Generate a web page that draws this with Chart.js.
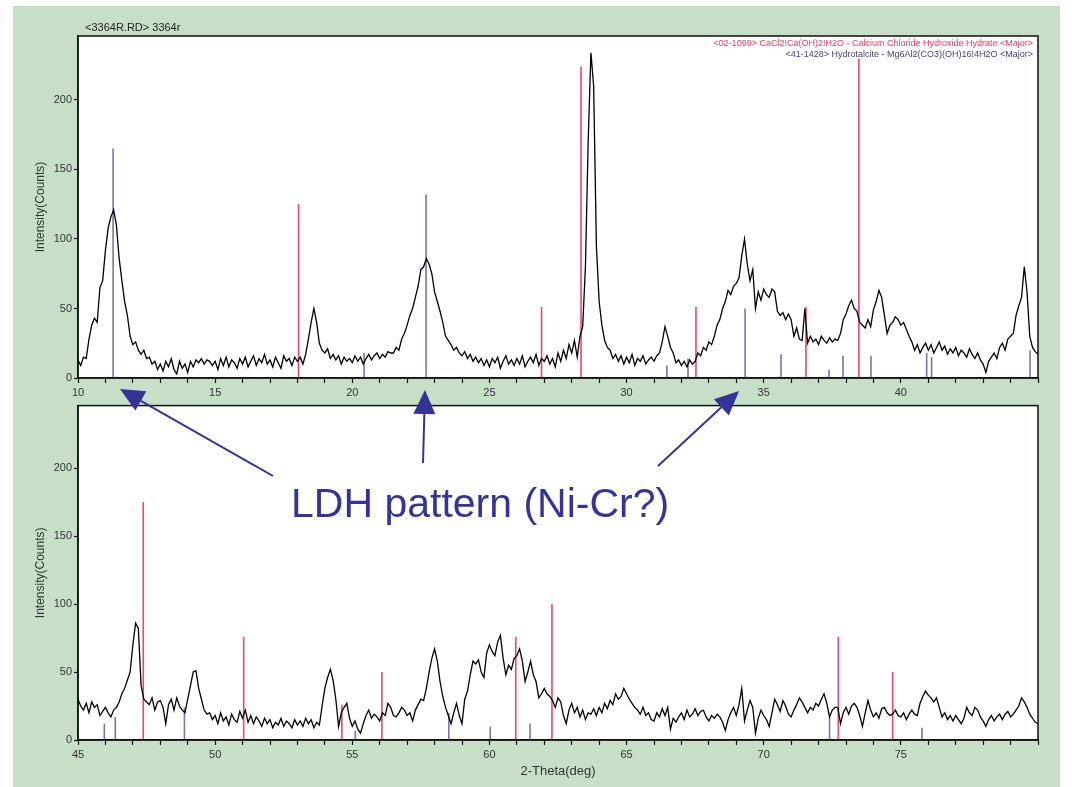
<!DOCTYPE html>
<html>
<head>
<meta charset="utf-8">
<title>3364r XRD</title>
<script src="https://cdn.jsdelivr.net/npm/chart.js@4.4.1/dist/chart.umd.min.js"></script>
<style>
  html, body { margin: 0; padding: 0; background: #fff; }
  #page { position: relative; width: 1072px; height: 787px; overflow: hidden; }
  #bg { position: absolute; left: 13px; top: 6px; width: 1047px; height: 781px; background: #c7dfc7; }
  #topChart { position: absolute; left: 0; top: 0; }
  #botChart { position: absolute; left: 0; top: 397px; }
  #overlay { position: absolute; left: 0; top: 0; pointer-events: none; font-family: "Liberation Sans", Arial, sans-serif; }
</style>
</head>
<body>
<div id="page">
  <div id="bg"></div>
  <canvas id="topChart" width="1072" height="397"></canvas>
  <canvas id="botChart" width="1072" height="390"></canvas>
  <svg id="overlay" width="1072" height="787">
    <text x="85" y="31" font-size="11" fill="#222">&lt;3364R.RD&gt; 3364r</text>
    <rect x="712" y="37" width="323" height="22" fill="#fff"></rect>
    <text x="1033" y="46" text-anchor="end" font-size="9" fill="#ff3366">&lt;02-1099&gt; CaCl2!Ca(OH)2!H2O - Calcium Chloride Hydroxide Hydrate &lt;Major&gt;</text>
    <text x="1033" y="57" text-anchor="end" font-size="9" fill="#4b3b8f">&lt;41-1428&gt; Hydrotalcite - Mg6Al2(CO3)(OH)16!4H2O &lt;Major&gt;</text>
    <g id="arrows"></g>
    <text x="291" y="517" font-size="41" fill="#333399">LDH pattern (Ni-Cr?)</text>
  </svg>
</div>
<script>
// scan step (deg 2-theta)
const STEP = 0.1;

// 10-45 deg scan
const TOP_START = 10;
const TOP_COUNTS = [
  13, 9, 15, 14, 28, 38, 43, 40, 65, 70,
  92, 108, 116, 121, 110, 86, 70, 55, 45, 30,
  24, 26, 20, 17, 20, 14, 15, 10, 12, 6,
  10, 5, 12, 8, 14, 6, 3, 12, 7, 10,
  4, 12, 8, 13, 11, 14, 10, 13, 12, 9,
  12, 6, 14, 9, 15, 8, 13, 11, 7, 14,
  10, 15, 8, 12, 16, 9, 14, 11, 17, 10,
  13, 8, 15, 11, 7, 16, 12, 14, 9, 15,
  12, 15, 10, 17, 28, 40, 50, 40, 25, 20,
  18, 21, 14, 17, 13, 16, 10, 15, 12, 14,
  11, 16, 12, 15, 10, 14, 17, 13, 16, 18,
  14, 17, 15, 19, 18, 18, 22, 20, 28, 32,
  38, 45, 50, 58, 66, 78, 80, 86, 82, 75,
  62, 55, 48, 40, 30, 27, 24, 20, 22, 18,
  16, 19, 14, 17, 12, 15, 11, 14, 9, 13,
  8, 14, 11, 15, 7, 12, 16, 10, 13, 9,
  14, 10, 16, 8, 12, 15, 11, 17, 9, 14,
  12, 16, 10, 14, 8, 18, 12, 20, 14, 24,
  18, 27, 15, 30, 37, 80, 170, 234, 210, 95,
  55, 38, 27, 22, 20, 14, 17, 12, 16, 10,
  15, 11, 17, 9, 14, 12, 16, 10, 13, 15,
  12, 16, 18, 26, 37, 30, 22, 18, 11, 13,
  9, 12, 8, 13, 10, 12, 18, 16, 22, 20,
  26, 24, 30, 38, 42, 50, 55, 63, 60, 66,
  68, 72, 88, 100, 82, 70, 78, 50, 62, 56,
  64, 60, 58, 64, 62, 48, 45, 47, 42, 46,
  42, 30, 36, 28, 27, 50, 25, 30, 26, 28,
  24, 30, 27, 25, 29, 26, 28, 27, 32, 42,
  46, 52, 56, 50, 48, 40, 38, 36, 42, 37,
  49, 55, 63, 58, 45, 32, 38, 40, 44, 42,
  38, 40, 35, 30, 26, 20, 24, 18, 22, 25,
  20, 24, 18, 22, 26, 20, 23, 17, 21, 18,
  22, 16, 20, 18, 15, 21, 17, 14, 18, 13,
  10, 4, 12, 15, 18, 14, 22, 25, 20, 28,
  30, 32, 45, 52, 58, 80, 62, 30, 22, 19,
  17
];

// 45-80 deg scan
const BOT_START = 45;
const BOT_COUNTS = [
  30, 25, 22, 27, 20, 28, 24, 26, 18, 21,
  24, 20, 17, 22, 24, 28, 34, 38, 44, 50,
  70, 86, 82, 40, 30, 28, 26, 31, 22, 28,
  29, 24, 12, 26, 30, 22, 31, 25, 22, 20,
  30, 40, 50, 51, 38, 30, 22, 19, 20, 15,
  18, 12, 20, 14, 17, 11, 19, 15, 13, 21,
  16, 22, 13, 18, 12, 17, 14, 10, 16, 12,
  15, 9, 13, 11, 16, 10, 14, 12, 9, 15,
  11, 14, 10, 16, 12, 15, 9, 13, 11, 25,
  38, 46, 52, 44, 30, 10, 20, 24, 27, 16,
  10, 14, 8, 5, 12, 18, 22, 16, 19, 17,
  14, 20, 18, 27, 24, 18, 17, 20, 24, 22,
  18, 20, 14, 22, 26, 30, 29, 38, 50, 60,
  67, 58, 43, 32, 24, 18, 12, 20, 27, 18,
  12, 30, 36, 48, 58, 56, 59, 50, 46, 64,
  70, 65, 62, 72, 77, 60, 48, 55, 52, 60,
  62, 67, 58, 43, 50, 58, 48, 43, 31, 34,
  38, 34, 32, 29, 24, 31, 28, 18, 12, 22,
  27, 20, 24, 17, 22, 15, 20, 19, 23, 18,
  24, 20, 27, 23, 29, 26, 34, 30, 32, 38,
  34, 30, 27, 24, 22, 19, 24, 18, 20, 15,
  14, 20, 17, 23, 18, 24, 8, 16, 13, 17,
  20, 15, 22, 17, 19, 23, 18, 21, 22, 17,
  14, 18, 16, 19, 17, 13, 7, 15, 20, 24,
  18, 26, 38, 14, 22, 29, 24, 5, 16, 22,
  18, 15, 10, 20, 30, 26, 21, 29, 25, 19,
  17, 22, 26, 31, 28, 24, 20, 24, 22, 27,
  25, 30, 34, 27, 17, 22, 24, 24, 12, 20,
  24, 19, 25, 27, 24, 18, 10, 20, 29, 22,
  17, 20, 16, 23, 24, 20, 18, 19, 22, 18,
  17, 20, 15, 19, 22, 19, 18, 27, 32, 36,
  33, 31, 28, 31, 24, 17, 20, 15, 18, 14,
  18, 15, 12, 16, 24, 20, 18, 24, 22, 17,
  14, 10, 15, 18, 14, 17, 19, 15, 19, 21,
  17, 19, 22, 25, 31, 28, 24, 19, 16, 13,
  12
];

// PDF 02-1099 CaCl2.Ca(OH)2.H2O stick lines
const CA_POS_TOP = [18.04, 26.90, 28.34, 32.53, 36.54, 38.47];
const CA_INT_TOP = [125, 51, 224, 51, 51, 260];
const CA_POS_BOT = [47.38, 51.04, 54.62, 56.08, 60.96, 62.28, 72.72, 74.70];
const CA_INT_BOT = [175, 76, 26, 50, 76, 100, 76, 50];

// PDF 41-1428 hydrotalcite stick lines
const HT_POS_TOP = [11.28, 20.43, 22.69, 31.47, 32.24, 34.32, 35.63, 37.38, 37.89, 38.91, 40.94, 41.12, 44.71];
const HT_INT_TOP = [165, 18, 132, 9, 14, 50, 17, 6, 16, 16, 18, 15, 20];
const HT_POS_BOT = [45.96, 46.36, 48.88, 55.11, 58.52, 60.03, 61.48, 72.40, 75.77];
const HT_INT_BOT = [12, 17, 24, 7, 20, 10, 12, 17, 9];

const Y_TICKS = [0, 50, 100, 150, 200];
const Y_MAX = 246;

const FONT = "'Liberation Sans', Arial, sans-serif";
const CA_COLOR = "#f6406e";
const HT_COLOR = "#8070ae";

function scanPoints(start, counts) {
  return counts.map((c, i) => ({ x: +(start + i * STEP).toFixed(2), y: c }));
}

// each stick = 0 -> intensity, broken by a null gap
function stickPoints(pos, inten) {
  const pts = [];
  pos.forEach((p, i) => {
    pts.push({ x: p, y: 0 }, { x: p, y: inten[i] }, { x: p, y: null });
  });
  return pts;
}

// white plot area + black frame
const plotFrame = {
  id: "plotFrame",
  beforeDraw(chart) {
    const { ctx, chartArea: a } = chart;
    ctx.save();
    ctx.fillStyle = "#fff";
    ctx.fillRect(a.left, a.top, a.right - a.left, a.bottom - a.top);
    ctx.restore();
  },
  afterDraw(chart) {
    const { ctx, chartArea: a } = chart;
    ctx.save();
    ctx.strokeStyle = "#111";
    ctx.lineWidth = 1.5;
    ctx.strokeRect(a.left, a.top, a.right - a.left, a.bottom - a.top);
    ctx.restore();
  }
};

function makeChart(id, opts) {
  const xMin = opts.start;
  const xMax = opts.start + 35;
  return new Chart(document.getElementById(id), {
    type: "line",
    data: {
      datasets: [
        {
          data: scanPoints(opts.start, opts.counts),
          borderColor: "#000",
          borderWidth: 1.3,
          pointRadius: 0,
          tension: 0,
          order: 0
        },
        {
          data: stickPoints(opts.caPos, opts.caInt),
          borderColor: CA_COLOR,
          borderWidth: 1.6,
          pointRadius: 0,
          spanGaps: false,
          order: 1
        },
        {
          data: stickPoints(opts.htPos, opts.htInt),
          borderColor: HT_COLOR,
          borderWidth: 1.6,
          pointRadius: 0,
          spanGaps: false,
          order: 2
        }
      ]
    },
    options: {
      responsive: false,
      animation: false,
      layout: { padding: { left: 29, right: 34, top: opts.padTop, bottom: 0 } },
      plugins: { legend: { display: false }, tooltip: { enabled: false } },
      scales: {
        x: {
          type: "linear",
          min: xMin,
          max: xMax,
          offset: false,
          afterFit: (s) => { s.height = opts.xHeight; },
          grid: { drawOnChartArea: false, drawTicks: true, tickLength: 5, color: "#111", tickWidth: 1.2 },
          border: { display: true, color: "#111", width: 1.5 },
          ticks: {
            stepSize: 1,
            autoSkip: false,
            maxRotation: 0,
            includeBounds: false,
            padding: 3,
            color: "#333",
            font: { family: FONT, size: 11 },
            callback: (v) => (v % 5 === 0 && v < xMax ? String(v) : "")
          },
          title: {
            display: !!opts.xTitle,
            text: opts.xTitle || "",
            color: "#333",
            font: { family: FONT, size: 13 },
            padding: { top: 2, bottom: 8 }
          }
        },
        y: {
          min: 0,
          max: Y_MAX,
          afterFit: (s) => { s.width = 49; },
          afterBuildTicks: (s) => { s.ticks = Y_TICKS.map((v) => ({ value: v })); },
          grid: { drawOnChartArea: false, drawTicks: true, tickLength: 4, color: "#111", tickWidth: 1.2 },
          border: { display: true, color: "#111", width: 1.5 },
          ticks: { padding: 2, color: "#333", font: { family: FONT, size: 11 } },
          title: {
            display: true,
            text: "Intensity(Counts)",
            color: "#333",
            font: { family: FONT, size: 12 },
            padding: { top: 4, bottom: 0 }
          }
        }
      }
    },
    plugins: [plotFrame]
  });
}

makeChart("topChart", {
  start: TOP_START, counts: TOP_COUNTS,
  caPos: CA_POS_TOP, caInt: CA_INT_TOP,
  htPos: HT_POS_TOP, htInt: HT_INT_TOP,
  padTop: 36, xHeight: 19
});

makeChart("botChart", {
  start: BOT_START, counts: BOT_COUNTS,
  caPos: CA_POS_BOT, caInt: CA_INT_BOT,
  htPos: HT_POS_BOT, htInt: HT_INT_BOT,
  padTop: 1, xHeight: 47, xTitle: "2-Theta(deg)"
});

// callout arrows pointing at the LDH reflections
function drawArrow(g, tail, tip) {
  const NS = "http://www.w3.org/2000/svg";
  const dx = tip[0] - tail[0], dy = tip[1] - tail[1];
  const len = Math.hypot(dx, dy);
  const ux = dx / len, uy = dy / len;
  const headLen = 24, half = 11;
  const bx = tip[0] - ux * headLen, by = tip[1] - uy * headLen;

  const line = document.createElementNS(NS, "line");
  line.setAttribute("x1", tail[0]);
  line.setAttribute("y1", tail[1]);
  line.setAttribute("x2", bx);
  line.setAttribute("y2", by);
  line.setAttribute("stroke", "#333399");
  line.setAttribute("stroke-width", "2");
  g.appendChild(line);

  const head = document.createElementNS(NS, "polygon");
  const pts = [
    [tip[0], tip[1]],
    [bx - uy * half, by + ux * half],
    [bx + uy * half, by - ux * half]
  ];
  head.setAttribute("points", pts.map((p) => p.join(",")).join(" "));
  head.setAttribute("fill", "#333399");
  g.appendChild(head);
}

const g = document.getElementById("arrows");
drawArrow(g, [273, 476], [120, 389]);
drawArrow(g, [423, 463], [425, 390]);
drawArrow(g, [658, 466], [739, 391]);
</script>
</body>
</html>
